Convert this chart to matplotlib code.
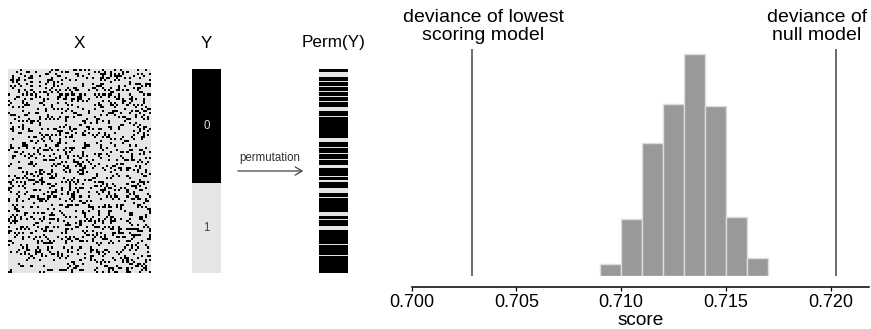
import numpy as np
import matplotlib
matplotlib.use("Agg")
import matplotlib.pyplot as plt
from matplotlib.colors import ListedColormap

plt.rcParams['font.family'] = ['Liberation Sans', 'DejaVu Sans']

# ---------------- data ----------------
# histogram of permutation scores
bin_edges = [0.709, 0.710, 0.711, 0.712, 0.713, 0.714, 0.715, 0.716, 0.717]
bin_heights = [2.0, 9.7, 22.8, 29.4, 38.0, 29.0, 10.0, 3.1]
lowest_model_deviance = 0.70286
null_model_deviance = 0.72024
xticks = [0.700, 0.705, 0.710, 0.715, 0.720]
xtick_labels = ["0.700", "0.705", "0.710", "0.715", "0.720"]

# class vector Y (rows of class 0, rows of class 1)
y_class_counts = [56, 44]
# permuted Y, run lengths alternating class 0 (black) / class 1 (light), top to bottom
perm_runs = [3, 5, 4, 1, 4, 1, 4, 1, 4, 1, 4, 1, 5, 4, 5, 1, 21, 4, 5, 1, 5, 1,
             5, 1, 5, 3, 9, 1, 3, 2, 6, 5, 4, 1, 14, 4, 3, 1, 6, 4, 14, 1, 10, 1, 17]

# feature matrix X (illustrative binary noise texture, 100 samples x 70 features)
x_rows, x_cols, x_density = 100, 70, 0.21
X = (np.random.default_rng(7).random((x_rows, x_cols)) < x_density).astype(int)

LIGHT = '#e5e5e5'

# ---------------- figure ----------------
W, H = 871, 329
fig = plt.figure(figsize=(W / 100, H / 100), dpi=100)


def rect(left, top, right, bottom):
    return [left / W, 1 - bottom / H, (right - left) / W, (bottom - top) / H]


# X panel
axX = fig.add_axes(rect(8, 69, 151, 273))
axX.imshow(X, cmap=ListedColormap([LIGHT, 'black']), vmin=0, vmax=1,
           aspect='auto', interpolation='nearest')
axX.axis('off')

# Y panel
yvec = np.repeat([0, 1], y_class_counts)[:, None]
axY = fig.add_axes(rect(192, 69, 221, 273))
axY.imshow(yvec, cmap=ListedColormap(['black', LIGHT]), vmin=0, vmax=1,
           aspect='auto', interpolation='nearest')
axY.axis('off')
n0, n1 = y_class_counts
axY.text(0, (n0 - 1) / 2, "0", color='#dddddd', fontsize=8.3, ha='center', va='center')
axY.text(0, n0 + (n1 - 1) / 2, "1", color='#444444', fontsize=8.3, ha='center', va='center')

# Perm(Y) panel
pvals = np.repeat(np.arange(len(perm_runs)) % 2, perm_runs)[:, None]
axP = fig.add_axes(rect(319, 69, 348, 273))
axP.imshow(pvals, cmap=ListedColormap(['black', LIGHT]), vmin=0, vmax=1,
           aspect='auto', interpolation='nearest')
axP.axis('off')

# titles
for label, cx in [("X", 79.5), ("Y", 206.5), ("Perm(Y)", 333.5)]:
    fig.text(cx / W, 1 - 43 / H, label, fontsize=12.3, ha='center', va='center')

# permutation arrow
fig.text(269.7 / W, 1 - 158.3 / H, "permutation", fontsize=8.3, color='#333333',
         ha='center', va='center')
fig.add_artist(matplotlib.patches.FancyArrowPatch(
    (235 / W, 1 - 171 / H), (306 / W, 1 - 171 / H), transform=fig.transFigure,
    arrowstyle='->,head_length=5,head_width=3', color='#444444', lw=0.9))

# histogram panel
axH = fig.add_axes(rect(411.7, 49, 869, 276))
widths = np.diff(bin_edges)
axH.bar(bin_edges[:-1], bin_heights, width=widths, align='edge',
        color='#999999', edgecolor='#dcdcdc', linewidth=1.0)
axH.axvline(lowest_model_deviance, color='#444444', lw=1.1)
axH.axvline(null_model_deviance, color='#444444', lw=1.1)
axH.set_xlim(0.700, 0.72183)
axH.set_ylim(0, 38.8)
for s in ['left', 'right', 'top']:
    axH.spines[s].set_visible(False)
axH.spines['bottom'].set_position(('outward', 7.7))
axH.spines['bottom'].set_linewidth(1.1)
axH.set_yticks([])
axH.set_xticks(xticks)
axH.set_xticklabels(xtick_labels)
axH.tick_params(axis='x', direction='out', length=3, width=0.9, labelsize=13, pad=2)
axH.set_xlabel("score", fontsize=13.7, labelpad=1)

fig.text(483.5 / W, 1 - 26.5 / H, "deviance of lowest\nscoring model", fontsize=14,
         ha='center', va='center', linespacing=1.15)
fig.text(817 / W, 1 - 26.5 / H, "deviance of\nnull model", fontsize=14,
         ha='center', va='center', linespacing=1.15)

fig.savefig("out.png", dpi=100)
